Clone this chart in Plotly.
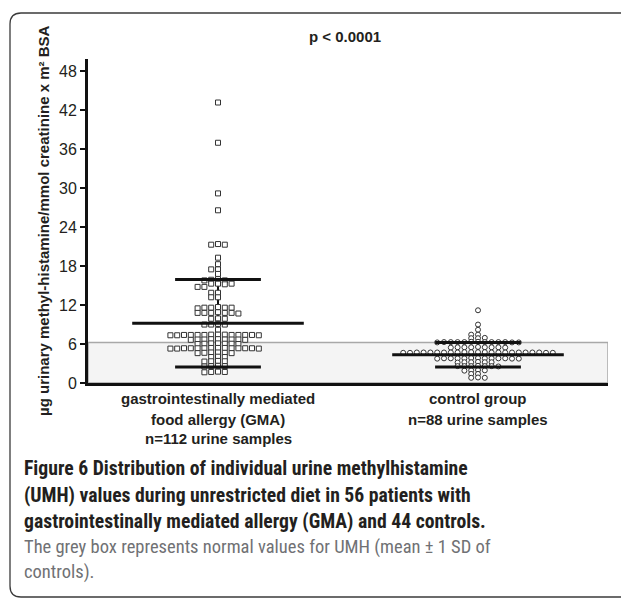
import plotly.graph_objects as go

# ---------------- data ----------------
categories = ["gastrointestinally mediated food allergy (GMA)", "control group"]

gma_values = [
    43.2, 37.0, 29.2, 26.6,
    21.3, 21.3, 21.4, 19.3, 18.3, 17.5, 17.5, 16.8,
    16.0, 15.8, 15.8, 15.9, 15.3, 15.3, 15.2, 15.3,
    14.8, 14.8, 13.9, 13.9, 13.2, 13.2,
    11.6, 11.6, 11.5, 11.6, 11.7, 11.6,
    10.8, 10.8, 10.9, 10.8, 10.7, 10.8, 10.8,
    9.9, 9.95, 9.9,
    9.0, 9.0, 9.1, 9.0,
    8.2,
    7.4, 7.4, 7.35, 7.45, 7.4, 7.4, 7.35, 7.45, 7.4, 7.4, 7.35, 7.45, 7.4, 7.4,
    6.7, 6.7, 6.75, 6.65, 6.7, 6.7, 6.75, 6.65, 6.7,
    6.05, 6.1, 6.0, 6.05, 6.1, 6.0, 6.05,
    5.35, 5.35, 5.3, 5.4, 5.35, 5.35, 5.3, 5.4, 5.35, 5.35, 5.3, 5.4, 5.35, 5.35,
    4.65, 4.7, 4.6, 4.65, 4.7, 4.6,
    4.0, 4.0, 4.05,
    3.35, 3.35, 3.3, 3.4,
    2.6, 2.6, 2.65, 2.55,
    1.7, 1.7, 1.75, 1.65,
]

ctrl_values = [
    11.2, 9.0, 8.2, 7.45, 7.45,
    6.9, 6.9, 6.95,
    6.3, 6.3, 6.25, 6.3, 6.35, 6.3, 6.3, 6.25, 6.3, 6.35, 6.3, 6.3, 6.25,
    5.5, 5.5, 5.45, 5.5, 5.55, 5.5, 5.5, 5.45, 5.5,
    4.7, 4.7, 4.65, 4.7, 4.75, 4.7, 4.7, 4.65, 4.7, 4.75, 4.7, 4.7,
    4.7, 4.65, 4.7, 4.75, 4.7, 4.7, 4.65, 4.7, 4.75, 4.7, 4.7,
    3.8, 3.8, 3.75, 3.8, 3.85, 3.8, 3.8, 3.75, 3.8, 3.85, 3.8, 3.8, 3.75,
    3.2, 3.2, 3.15, 3.2, 3.25, 3.2,
    2.6, 2.6, 2.55, 2.6, 2.65, 2.6, 2.6,
    1.95, 1.95, 1.9, 2.0,
    1.4, 1.4,
    0.8, 0.8, 0.85,
]

group_means = [9.2, 4.36]
group_sds = [6.73, 1.88]

y_ticks = [0, 6, 12, 18, 24, 30, 36, 42, 48]

label_lines = [
    ["gastrointestinally mediated", "food allergy (GMA)", "n=112 urine samples"],
    ["control group", "n=88 urine samples"],
]
p_text = "p < 0.0001"
y_title = "µg urinary methyl-histamine/mmol creatinine x m² BSA"
caption_bold = [
    "Figure 6 Distribution of individual urine methylhistamine",
    "(UMH) values during unrestricted diet in 56 patients with",
    "gastrointestinally mediated allergy (GMA) and 44 controls.",
]
caption_plain = [
    "The grey box represents normal values for UMH (mean ± 1 SD of",
    "controls).",
]

# ---------------- layout constants ----------------
W, H = 621, 598
ML, MR, MT, MB = 88, 13, 59, 215
PW, PH = W - ML - MR, H - MT - MB
X_RANGE = [-0.5, 1.5]
Y_RANGE = [0, 49.9]
px_per_x = PW / (X_RANGE[1] - X_RANGE[0])
px_per_y = PH / (Y_RANGE[1] - Y_RANGE[0])


def paper_x(px):
    return (px - ML) / PW


def paper_y(py):
    return (H - MB - py) / PH


def swarm(values, center, step_px=6.8, min_sep_px=3.4):
    """Column beeswarm on a fixed horizontal grid."""
    order = sorted(range(len(values)), key=lambda i: -values[i])
    cols = {}
    xs = [0.0] * len(values)
    for i in order:
        yp = values[i] * px_per_y
        k = 0
        while True:
            done = False
            for c in ([0] if k == 0 else [-k, k]):
                placed = cols.setdefault(c, [])
                if all(abs(yp - q) >= min_sep_px for q in placed):
                    placed.append(yp)
                    xs[i] = center + c * step_px / px_per_x
                    done = True
                    break
            if done:
                break
            k += 1
    return xs


fig = go.Figure()

# vertical SD whiskers (below markers)
for gi in range(2):
    m, s = group_means[gi], group_sds[gi]
    fig.add_trace(go.Scatter(x=[gi, gi], y=[m - s, m + s], mode="lines",
                             line=dict(color="#111", width=2), hoverinfo="skip",
                             showlegend=False))

gma_x = swarm(gma_values, 0)
ctrl_x = swarm(ctrl_values, 1)

fig.add_trace(go.Scatter(x=gma_x, y=gma_values, mode="markers", showlegend=False,
                         marker=dict(symbol="square", size=5, color="white",
                                     line=dict(color="#333", width=1))))
fig.add_trace(go.Scatter(x=ctrl_x, y=ctrl_values, mode="markers", showlegend=False,
                         marker=dict(symbol="circle", size=5, color="white",
                                     line=dict(color="#333", width=1))))

# mean and SD horizontal bars
for gi in range(2):
    m, s = group_means[gi], group_sds[gi]
    fig.add_trace(go.Scatter(x=[gi - 0.33, gi + 0.33], y=[m, m], mode="lines",
                             line=dict(color="#111", width=3), showlegend=False, hoverinfo="skip"))
    for v in (m - s, m + s):
        fig.add_trace(go.Scatter(x=[gi - 0.165, gi + 0.165], y=[v, v], mode="lines",
                                 line=dict(color="#111", width=3), showlegend=False, hoverinfo="skip"))

shapes = [
    dict(type="rect", xref="x", yref="y", x0=X_RANGE[0], x1=X_RANGE[1], y0=0,
         y1=group_means[1] + group_sds[1], fillcolor="#f4f4f4",
         line=dict(color="#a8a8a8", width=1.5), layer="below"),
]
# figure frame: left edge, top edge, bottom edge, rounded left corners
FRAME = dict(color="#3a3a3a", width=1.3)
def seg(x0, y0, x1, y1):
    return dict(type="line", xref="paper", yref="paper", x0=paper_x(x0), y0=paper_y(y0),
                x1=paper_x(x1), y1=paper_y(y1), line=FRAME)
shapes += [seg(10, 24, 10, 586), seg(21, 13, 621, 13), seg(21, 597, 621, 597)]
p = lambda x, y: f"{paper_x(x):.5f},{paper_y(y):.5f}"
shapes.append(dict(type="path", xref="paper", yref="paper", line=FRAME,
                   path=f"M {p(10, 24)} Q {p(10, 13)} {p(21, 13)}"))
shapes.append(dict(type="path", xref="paper", yref="paper", line=FRAME,
                   path=f"M {p(10, 586)} Q {p(10, 597)} {p(21, 597)}"))

annotations = []
FONT = "Arial, Liberation Sans, sans-serif"
CAP_FONT = "Liberation Sans Narrow, Roboto Condensed, Roboto, sans-serif"
annotations.append(dict(text=f"<b>{p_text}</b>", xref="paper", yref="paper",
                        x=paper_x(345), y=paper_y(37), showarrow=False,
                        xanchor="center", yanchor="middle",
                        font=dict(family=FONT, size=15, color="#231f20")))
annotations.append(dict(text=f"<b>{y_title}</b>", xref="paper", yref="paper",
                        x=paper_x(43), y=paper_y(221), textangle=-90, showarrow=False,
                        xanchor="center", yanchor="middle",
                        font=dict(family=FONT, size=15, color="#231f20")))
line_y = [398, 419, 439]
for gi, lines in enumerate(label_lines):
    for li, t in enumerate(lines):
        annotations.append(dict(text=f"<b>{t}</b>", xref="x", yref="paper", x=gi,
                                y=paper_y(line_y[li]), showarrow=False,
                                xanchor="center", yanchor="middle",
                                font=dict(family=FONT, size=15, color="#231f20")))
cap_y = [468, 495, 521]
for i, t in enumerate(caption_bold):
    annotations.append(dict(text=f"<b>{t}</b>", xref="paper", yref="paper",
                            x=paper_x(22), y=paper_y(cap_y[i]), xanchor="left",
                            yanchor="middle", showarrow=False,
                            font=dict(family=CAP_FONT, size=19.7, color="#231f20")))
cap2_y = [547, 572]
for i, t in enumerate(caption_plain):
    annotations.append(dict(text=t, xref="paper", yref="paper",
                            x=paper_x(22), y=paper_y(cap2_y[i]), xanchor="left",
                            yanchor="middle", showarrow=False,
                            font=dict(family=CAP_FONT, size=18.5, color="#707174")))

fig.update_layout(
    width=W, height=H,
    margin=dict(l=ML, r=MR, t=MT, b=MB),
    paper_bgcolor="white", plot_bgcolor="white",
    shapes=shapes, annotations=annotations,
    xaxis=dict(range=X_RANGE, showgrid=False, zeroline=False, showticklabels=False,
               ticks="", showline=True, linecolor="#111", linewidth=3),
    yaxis=dict(range=Y_RANGE, showgrid=False, zeroline=False, tickvals=y_ticks,
               ticks="outside", ticklen=5, tickwidth=2, tickcolor="#111",
               showline=True, linecolor="#111", linewidth=3,
               tickfont=dict(family=FONT, size=16, color="#231f20")),
)

fig.write_html("out.html", config={"displayModeBar": False},
               post_script="document.body.style.margin='0px';"
                           "document.body.style.overflow='hidden';")
